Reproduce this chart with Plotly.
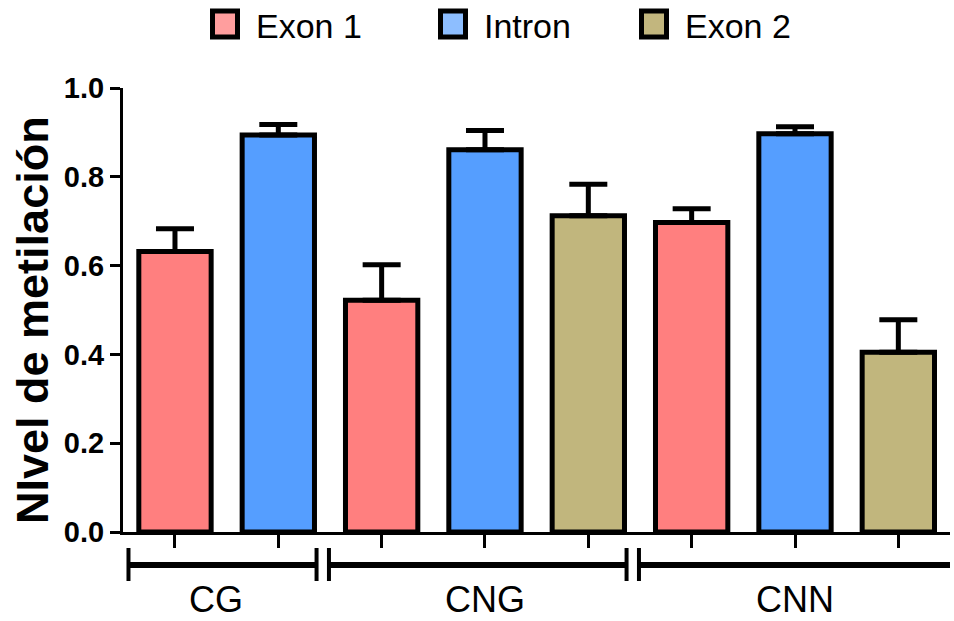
import plotly.graph_objects as go

# Methylation level per region within each sequence context
regions = ["Exon 1", "Intron", "Exon 2"]
contexts = ["CG", "CNG", "CNN"]
bar_context = ["CG", "CG", "CNG", "CNG", "CNG", "CNN", "CNN", "CNN"]
bar_region = ["Exon 1", "Intron", "Exon 1", "Intron", "Exon 2", "Exon 1", "Intron", "Exon 2"]
means = [0.632, 0.894, 0.522, 0.861, 0.712, 0.697, 0.897, 0.405]
errors = [0.051, 0.024, 0.080, 0.043, 0.071, 0.031, 0.016, 0.073]
y_ticks = [0.0, 0.2, 0.4, 0.6, 0.8, 1.0]
y_tick_labels = ["0.0", "0.2", "0.4", "0.6", "0.8", "1.0"]

bar_colors = {"Exon 1": "#FF7F7F", "Intron": "#559EFF", "Exon 2": "#C1B67D"}
legend_colors = {"Exon 1": "#FF9E9E", "Intron": "#8DBEFF", "Exon 2": "#C2B67E"}

W, H = 954, 621
M_L, M_R, M_T, M_B = 123, 4, 88, 89
PW, PH = W - M_L - M_R, H - M_T - M_B
FONT = "Arial, Liberation Sans"


def px_x(px):
    return (px - M_L) / PW


def px_y(py):
    return 1 - (py - M_T) / PH


fig = go.Figure()
positions = list(range(len(means)))
for reg in regions:
    idx = [i for i, r in enumerate(bar_region) if r == reg]
    fig.add_trace(go.Bar(
        x=[positions[i] for i in idx],
        y=[means[i] for i in idx],
        width=0.7,
        marker=dict(color=bar_colors[reg], line=dict(color="black", width=5)),
        error_y=dict(type="data", symmetric=False,
                     array=[errors[i] for i in idx],
                     arrayminus=[0] * len(idx),
                     color="black", thickness=5, width=19),
        showlegend=False,
        name=reg,
    ))

shapes = []
annotations = []

# Context brackets under the x axis
first_idx = {c: bar_context.index(c) for c in contexts}
last_idx = {c: len(bar_context) - 1 - bar_context[::-1].index(c) for c in contexts}
edges = [-0.45]
for k, c in enumerate(contexts[:-1]):
    edges.append((last_idx[c] + first_idx[contexts[k + 1]]) / 2 - 0.07)
edges.append(7.6)
y_line = px_y(565)
y_cap0, y_cap1 = px_y(548), px_y(581)
gap = 0.06
for k, c in enumerate(contexts):
    x0 = edges[k] + (gap if k > 0 else 0)
    x1 = edges[k + 1] - (gap if k < len(contexts) - 1 else 0)
    shapes.append(dict(type="line", xref="x", yref="paper", x0=x0, x1=x1,
                       y0=y_line, y1=y_line, line=dict(color="black", width=6)))
    shapes.append(dict(type="line", xref="x", yref="paper", x0=x0, x1=x0,
                       y0=y_cap0, y1=y_cap1, line=dict(color="black", width=4)))
    if k < len(contexts) - 1:
        shapes.append(dict(type="line", xref="x", yref="paper", x0=x1, x1=x1,
                           y0=y_cap0, y1=y_cap1, line=dict(color="black", width=4)))
    label_x = (first_idx[c] + last_idx[c]) / 2 - (0.1 if k == 0 else 0)
    annotations.append(dict(x=label_x, xref="x", y=px_y(599), yref="paper",
                            text=c, showarrow=False, xanchor="center", yanchor="middle",
                            borderpad=0,
                            font=dict(family=FONT, size=36, color="black")))

# Legend: swatches and labels
legend_swatch_x = [210, 438, 639]
for reg, sx in zip(regions, legend_swatch_x):
    shapes.append(dict(type="rect", xref="paper", yref="paper",
                       x0=px_x(sx + 2.5), x1=px_x(sx + 27.5),
                       y0=px_y(11), y1=px_y(37),
                       fillcolor=legend_colors[reg], line=dict(color="black", width=5)))
    annotations.append(dict(x=px_x(sx + 44), xref="paper", y=px_y(26), yref="paper",
                            text=reg, showarrow=False, xanchor="left", yanchor="middle",
                            font=dict(family=FONT, size=34, color="black")))

# Y axis title
annotations.append(dict(x=px_x(32), xref="paper", y=px_y(320), yref="paper",
                        text="NIvel de metilación", textangle=-90, showarrow=False,
                        xanchor="center", yanchor="middle",
                        font=dict(family=FONT, size=45, color="black", weight="bold")))

fig.update_layout(
    width=W, height=H,
    margin=dict(l=M_L, r=M_R, t=M_T, b=M_B, pad=0),
    paper_bgcolor="white", plot_bgcolor="white",
    barmode="overlay",
    shapes=shapes,
    annotations=annotations,
    xaxis=dict(range=[-0.503, 7.5], tickvals=positions, ticktext=[""] * len(positions),
               ticks="outside", ticklen=13, tickwidth=3, tickcolor="black",
               showline=True, linewidth=3, linecolor="black",
               showgrid=False, zeroline=False, fixedrange=True),
    yaxis=dict(range=[0, 1], tickvals=y_ticks, ticktext=y_tick_labels,
               ticks="outside", ticklen=10, tickwidth=3, tickcolor="black",
               showline=True, linewidth=3, linecolor="black",
               showgrid=False, zeroline=False,
               tickfont=dict(family=FONT, size=29, color="black", weight="bold")),
)

fig.write_html("out.html")
